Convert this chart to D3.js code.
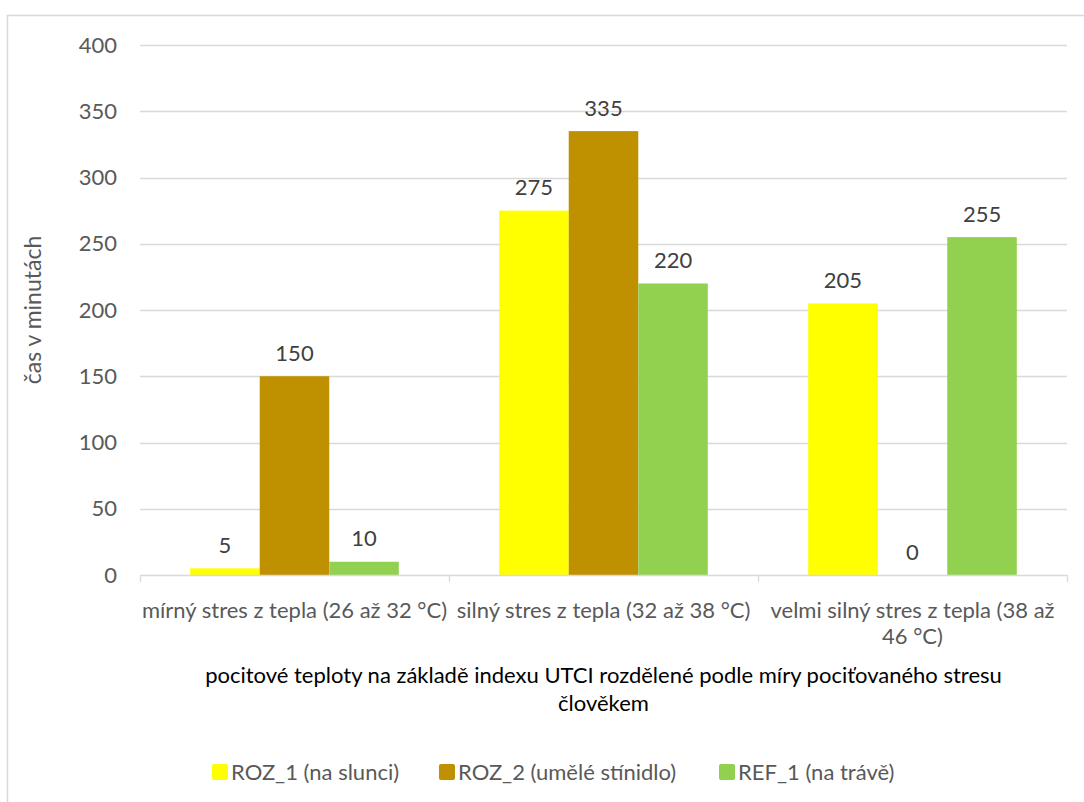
<!DOCTYPE html>
<html><head><meta charset="utf-8">
<script src="https://cdn.jsdelivr.net/npm/d3@7"></script>
<style>html,body{margin:0;padding:0;background:#fff;} svg{display:block;}</style>
</head><body>
<script>
const categories = [
  ["mírný stres z tepla (26 až 32 °C)"],
  ["silný stres z tepla (32 až 38 °C)"],
  ["velmi silný stres z tepla (38 až", "46 °C)"]
];
const seriesNames = ["ROZ_1 (na slunci)", "ROZ_2 (umělé stínidlo)", "REF_1 (na trávě)"];
const roz1 = [5, 275, 205];
const roz2 = [150, 335, 0];
const ref1 = [10, 220, 255];
const yTicks = [0, 50, 100, 150, 200, 250, 300, 350, 400];
const colors = ["#FFFF00", "#BF9000", "#92D050"];
const yTitle = "čas v minutách";
const xTitle = ["pocitové teploty na základě indexu UTCI rozdělené podle míry pociťovaného stresu", "člověkem"];

const series = [roz1, roz2, ref1];
const W = 1084, H = 802;
const font = "Lato, 'Open Sans', sans-serif";
const txt = "#595959";
const grid = "#D9D9D9";
const fs = 22;

const svg = d3.select("body").append("svg").attr("width", W).attr("height", H);
svg.append("rect").attr("x", 7.5).attr("y", 15.5).attr("width", 1100).attr("height", 900)
  .attr("fill", "#fff").attr("stroke", grid).attr("stroke-width", 1.5);

const L = 140, R = 1067, T = 45, B = 575;
const y = d3.scaleLinear().domain([0, 400]).range([B, T]);
const x0 = d3.scaleBand().domain(d3.range(categories.length)).range([L, R]).paddingInner(0).paddingOuter(0);
const groupW = x0.bandwidth() * 0.675;
const x1 = d3.scaleBand().domain(d3.range(series.length)).range([0, groupW]).padding(0);
const off = (x0.bandwidth() - groupW) / 2;

// gridlines
svg.append("g").selectAll("line").data(yTicks.filter(d => d > 0)).join("line")
  .attr("x1", L).attr("x2", R).attr("y1", d => Math.round(y(d)) + 0.5).attr("y2", d => Math.round(y(d)) + 0.5)
  .attr("stroke", grid).attr("stroke-width", 1.3);

// y tick labels
svg.append("g").selectAll("text").data(yTicks).join("text")
  .attr("x", 117).attr("y", d => y(d)).attr("dy", "0.35em").attr("text-anchor", "end")
  .attr("font-family", font).attr("font-size", fs).attr("fill", txt).text(d => d);

// bars
const gBars = svg.append("g");
series.forEach((s, si) => {
  gBars.selectAll(null).data(s).join("rect")
    .attr("x", (d, i) => x0(i) + off + x1(si))
    .attr("y", d => y(d))
    .attr("width", x1.bandwidth())
    .attr("height", d => y(0) - y(d))
    .attr("fill", colors[si]);
  gBars.selectAll(null).data(s).join("text")
    .attr("x", (d, i) => x0(i) + off + x1(si) + x1.bandwidth() / 2)
    .attr("y", d => y(d) - 23).attr("dy", "0.35em").attr("text-anchor", "middle")
    .attr("font-family", font).attr("font-size", fs).attr("fill", "#404040").text(d => d);
});

// x axis line and ticks
svg.append("line").attr("x1", L).attr("x2", R).attr("y1", B + 0.5).attr("y2", B + 0.5)
  .attr("stroke", grid).attr("stroke-width", 1.3);
svg.append("g").selectAll("line").data(d3.range(categories.length + 1)).join("line")
  .attr("x1", d => Math.round(L + d * x0.bandwidth()) + 0.5).attr("x2", d => Math.round(L + d * x0.bandwidth()) + 0.5)
  .attr("y1", B).attr("y2", B + 7).attr("stroke", grid).attr("stroke-width", 1.3);

// category labels
const cl = svg.append("g").selectAll("text").data(categories).join("text")
  .attr("x", (d, i) => x0(i) + x0.bandwidth() / 2).attr("y", 610)
  .attr("text-anchor", "middle").attr("font-family", font).attr("font-size", fs).attr("fill", txt);
cl.selectAll("tspan").data(d => d).join("tspan")
  .attr("x", function () { return d3.select(this.parentNode).attr("x"); })
  .attr("dy", (d, i) => i === 0 ? "0.35em" : 26).text(d => d);

// y title
svg.append("text").attr("transform", `translate(33,${(T + B) / 2}) rotate(-90)`)
  .attr("dy", "0.35em").attr("text-anchor", "middle").attr("font-family", font).attr("font-size", 23)
  .attr("fill", txt).text(yTitle);

// x title
svg.append("g").selectAll("text").data(xTitle).join("text")
  .attr("x", (L + R) / 2).attr("y", (d, i) => 675 + i * 28).attr("dy", "0.35em").attr("text-anchor", "middle")
  .attr("font-family", font).attr("font-size", fs).attr("fill", "#000").text(d => d);

// legend
const legX = [212, 439, 719];
const lg = svg.append("g").selectAll("g").data(seriesNames).join("g")
  .attr("transform", (d, i) => `translate(${legX[i]},764)`);
lg.append("rect").attr("width", 16).attr("height", 16).attr("rx", 2).attr("fill", (d, i) => colors[i]);
lg.append("text").attr("x", 19).attr("y", 8).attr("dy", "0.35em").attr("font-family", font)
  .attr("font-size", fs).attr("fill", txt).text(d => d);
</script>
</body></html>
